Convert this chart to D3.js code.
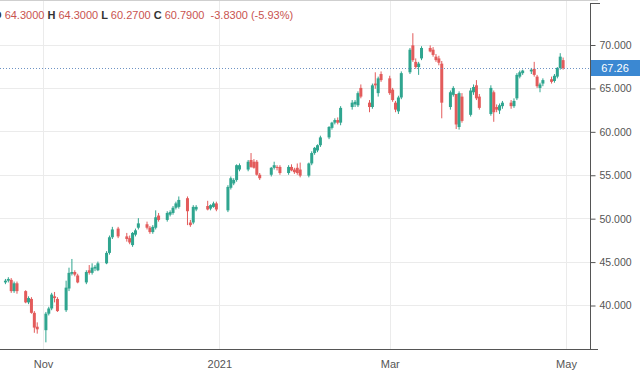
<!doctype html>
<html lang="en">
<head>
<meta charset="UTF-8">
<title>Candlestick chart</title>
<script src="https://cdn.jsdelivr.net/npm/d3@7"></script>
<style>
  html, body { margin: 0; padding: 0; background: #fff; overflow: hidden; }
  svg { display: block; font-family: "Liberation Sans", Arial, sans-serif; }
</style>
</head>
<body>
<div id="chart"></div>
<script>
// daily candles
const dates = [
  "2020-10-16","2020-10-19","2020-10-20","2020-10-21","2020-10-22","2020-10-23","2020-10-26","2020-10-27","2020-10-28","2020-10-29","2020-10-30",
  "2020-11-02","2020-11-03","2020-11-04","2020-11-05","2020-11-06","2020-11-09","2020-11-10","2020-11-11","2020-11-12","2020-11-13",
  "2020-11-16","2020-11-17","2020-11-18","2020-11-19","2020-11-20","2020-11-23","2020-11-24","2020-11-25","2020-11-27","2020-11-30",
  "2020-12-01","2020-12-02","2020-12-03","2020-12-04","2020-12-07","2020-12-08","2020-12-09","2020-12-10","2020-12-11",
  "2020-12-14","2020-12-15","2020-12-16","2020-12-17","2020-12-18","2020-12-21","2020-12-22","2020-12-23","2020-12-24",
  "2020-12-28","2020-12-29","2020-12-30","2020-12-31",
  "2021-01-04","2021-01-05","2021-01-06","2021-01-07","2021-01-08","2021-01-11","2021-01-12","2021-01-13","2021-01-14","2021-01-15",
  "2021-01-19","2021-01-20","2021-01-21","2021-01-22","2021-01-25","2021-01-26","2021-01-27","2021-01-28","2021-01-29",
  "2021-02-01","2021-02-02","2021-02-03","2021-02-04","2021-02-05","2021-02-08","2021-02-09","2021-02-10","2021-02-11","2021-02-12",
  "2021-02-16","2021-02-17","2021-02-18","2021-02-19","2021-02-22","2021-02-23","2021-02-24","2021-02-25","2021-02-26",
  "2021-03-01","2021-03-02","2021-03-03","2021-03-04","2021-03-05","2021-03-08","2021-03-09","2021-03-10","2021-03-11","2021-03-12",
  "2021-03-15","2021-03-16","2021-03-17","2021-03-18","2021-03-19","2021-03-22","2021-03-23","2021-03-24","2021-03-25","2021-03-26",
  "2021-03-29","2021-03-30","2021-03-31","2021-04-01",
  "2021-04-05","2021-04-06","2021-04-07","2021-04-08","2021-04-09","2021-04-12","2021-04-13","2021-04-14","2021-04-15","2021-04-16",
  "2021-04-19","2021-04-20","2021-04-21","2021-04-22","2021-04-23","2021-04-26","2021-04-27","2021-04-28","2021-04-29","2021-04-30"
];
const opens = [
  42.8,42.6,42.8,42.9,41.6,42.5,41.6,40.3,40.7,39.1,37.5,
  37.1,39.0,39.6,41.0,40.7,39.4,41.9,43.6,43.8,43.4,
  42.6,44.0,43.7,44.2,44.0,44.8,46.0,47.8,48.8,47.9,
  47.7,46.9,48.1,48.9,49.3,48.9,48.4,48.9,50.3,
  49.8,50.4,50.6,51.2,51.3,52.3,49.5,49.5,51.0,
  51.4,51.1,51.3,51.7,
  50.9,53.5,54.0,54.4,55.6,55.6,56.7,56.5,56.5,55.0,
  55.0,55.8,55.9,55.9,55.2,55.9,55.6,55.8,55.6,
  54.9,56.3,57.5,57.8,58.4,59.3,60.4,61.0,61.3,61.0,
  62.8,63.1,63.0,65.0,63.3,62.8,65.5,64.4,66.6,
  66.1,64.8,63.3,62.3,63.9,66.8,69.9,68.0,67.4,68.4,
  69.6,69.4,68.6,68.4,67.8,62.8,64.2,64.3,60.5,64.0,
  61.9,64.5,65.3,64.0,
  62.0,64.5,62.8,62.4,62.9,63.3,62.9,63.8,66.3,66.7,
  66.9,67.2,66.3,65.0,65.5,66.0,65.8,66.3,67.3,68.2
];
const highs = [
  43.1,43.0,43.2,43.1,42.7,42.7,41.7,41.0,40.9,39.3,38.0,
  39.2,39.8,41.4,41.5,40.9,42.8,44.3,45.3,44.0,43.6,
  44.0,44.6,44.8,44.6,45.0,46.2,48.0,49.0,49.0,48.3,
  48.0,48.4,48.8,50.0,49.6,49.1,49.2,50.9,50.6,
  50.8,50.9,51.4,51.9,52.5,52.5,49.8,51.5,51.5,
  52.0,51.6,51.9,51.9,
  53.8,54.8,54.6,56.2,56.3,56.7,57.5,56.8,56.7,55.2,
  55.9,56.5,56.1,56.1,56.1,56.2,55.8,56.3,56.4,
  56.4,57.7,58.2,58.5,59.5,60.6,61.1,61.5,61.6,62.9,
  63.6,63.6,64.6,65.4,63.6,65.5,66.8,66.3,66.9,
  66.4,65.0,63.5,64.1,66.9,69.6,71.3,68.4,68.0,69.8,
  69.9,69.7,68.9,68.7,68.1,64.7,65.2,64.3,64.6,64.4,
  65.0,65.4,65.9,64.3,
  65.3,64.7,63.1,63.2,63.5,63.6,63.8,66.7,67.0,67.1,
  67.3,68.0,66.5,65.6,66.1,66.3,66.6,67.4,69.0,68.5
];
const lows = [
  42.5,42.4,42.6,41.4,41.4,41.3,40.2,40.1,39.0,36.8,36.7,
  35.7,38.8,39.4,40.3,39.2,39.2,41.6,43.4,43.3,42.5,
  42.4,43.5,43.5,43.9,43.9,44.7,45.8,47.6,47.7,47.3,
  47.0,46.7,47.9,48.7,48.7,48.2,48.2,48.7,49.6,
  49.6,50.2,50.4,51.0,51.1,49.2,49.0,49.3,50.8,
  50.9,50.9,51.2,50.8,
  50.7,53.3,53.8,54.2,55.4,55.4,55.8,55.7,54.9,54.4,
  54.8,55.6,55.5,55.0,55.0,55.4,55.1,55.0,54.7,
  54.7,56.1,57.3,57.6,58.2,59.1,60.2,60.8,60.8,60.7,
  62.5,62.8,62.8,63.8,62.2,62.6,64.9,64.0,65.7,
  64.2,63.4,62.2,62.0,63.7,66.6,68.0,67.2,66.5,68.2,
  69.1,68.6,68.0,67.6,61.5,62.5,64.0,60.27,60.2,61.0,
  61.7,64.2,63.6,62.5,
  61.8,61.1,62.2,62.0,62.6,62.6,62.7,63.6,66.1,66.5,
  66.6,66.3,65.0,64.5,65.2,65.5,65.6,66.1,67.1,67.1
];
const closes = [
  42.6,42.8,43.0,41.6,42.5,41.6,40.3,40.8,39.1,37.4,37.2,
  39.0,39.6,41.2,40.8,39.3,42.0,43.7,43.8,43.5,42.6,
  43.8,43.7,44.3,44.4,44.8,46.0,47.8,48.7,47.9,47.6,
  47.2,48.3,48.6,49.4,48.9,48.4,49.0,50.1,49.8,
  50.6,50.7,51.2,51.7,52.1,50.8,49.2,51.3,51.3,
  51.0,51.5,51.7,51.0,
  53.6,54.6,54.4,56.1,56.1,56.5,55.9,55.8,55.0,54.6,
  55.8,56.1,55.8,55.2,55.9,55.5,55.3,55.2,54.9,
  56.3,57.5,58.1,58.4,59.3,60.5,61.0,61.3,61.0,62.7,
  63.3,63.4,64.4,64.0,62.8,65.3,65.3,66.1,65.9,
  64.4,63.6,62.5,63.9,66.7,69.4,68.2,67.4,67.8,69.6,
  69.2,68.8,68.2,67.9,63.3,64.5,65.0,60.79,64.4,61.2,
  64.7,65.1,63.8,62.7,
  65.0,62.2,62.5,63.0,63.3,62.9,63.5,66.5,66.8,67.0,
  67.1,66.5,65.2,65.4,65.9,65.7,66.4,67.3,68.6,67.26
];

const yTicks = [40, 45, 50, 55, 60, 65, 70];
const xTickDates = ["2020-11-01", "2021-01-01", "2021-03-01", "2021-05-01"];
const xTickLabels = ["Nov", "2021", "Mar", "May"];
const lastPrice = 67.26;
const headerItems = [["O", "64.3000"], ["H", "64.3000"], ["L", "60.2700"], ["C", "60.7900"]];
const headerChange = "-3.8300 (-5.93%)";

const width = 640;
const height = 374;
const plotRight = 590;
const plotBottom = 349;
const upColor = "#2fa58f";
const downColor = "#e35b5b";

const parse = d3.utcParse("%Y-%m-%d");
const data = dates.map((d, i) => ({
  date: parse(d), open: opens[i], high: highs[i], low: lows[i], close: closes[i]
}));

const x = d3.scaleUtc()
  .domain([parse("2020-11-01"), parse("2021-05-01")])
  .range([43, 566]);
const y = d3.scaleLinear().domain([40, 70]).range([305, 44.5]);

const svg = d3.select("#chart").append("svg")
  .attr("width", width)
  .attr("height", height);

svg.append("rect").attr("width", width).attr("height", height).attr("fill", "#fff");

// grid
const grid = svg.append("g");
grid.selectAll(".hgrid").data(yTicks).enter().append("line")
  .attr("x1", 0).attr("x2", plotRight)
  .attr("y1", d => Math.round(y(d)) + 0.5).attr("y2", d => Math.round(y(d)) + 0.5)
  .attr("stroke", "#ebebeb");
grid.selectAll(".vgrid").data(xTickDates).enter().append("line")
  .attr("x1", d => Math.round(x(parse(d))) + 0.5).attr("x2", d => Math.round(x(parse(d))) + 0.5)
  .attr("y1", 0).attr("y2", plotBottom)
  .attr("stroke", "#ebebeb");

// top border
svg.append("line").attr("x1", 0).attr("x2", 598).attr("y1", 0.5).attr("y2", 0.5).attr("stroke", "#cfcfcf");

// candles
svg.append("clipPath").attr("id", "plot-clip")
  .append("rect").attr("x", 0).attr("y", 0).attr("width", plotRight).attr("height", plotBottom);

const candles = svg.append("g").attr("clip-path", "url(#plot-clip)");
const bodyW = 3;

candles.selectAll(".wick").data(data).enter().append("line")
  .attr("x1", d => x(d.date)).attr("x2", d => x(d.date))
  .attr("y1", d => y(d.high)).attr("y2", d => y(d.low))
  .attr("stroke", d => d.close >= d.open ? upColor : downColor)
  .attr("stroke-width", 1);

candles.selectAll(".body").data(data).enter().append("rect")
  .attr("x", d => x(d.date) - bodyW / 2)
  .attr("width", bodyW)
  .attr("y", d => y(Math.max(d.open, d.close)))
  .attr("height", d => Math.max(1, Math.abs(y(d.open) - y(d.close))))
  .attr("fill", d => d.close >= d.open ? upColor : downColor);

// last price line
candles.append("line")
  .attr("x1", 0).attr("x2", plotRight)
  .attr("y1", Math.round(y(lastPrice)) + 0.5).attr("y2", Math.round(y(lastPrice)) + 0.5)
  .attr("stroke", "#6d93c4")
  .attr("stroke-dasharray", "1,2");

// y axis on the right
const yAxis = d3.axisRight(y)
  .tickValues(yTicks)
  .tickSize(5)
  .tickPadding(4)
  .tickFormat(d3.format(".3f"));

const yAxisG = svg.append("g")
  .attr("transform", `translate(${plotRight + 0.5},0.5)`)
  .call(yAxis);
yAxisG.select(".domain").remove();
yAxisG.selectAll("line").attr("stroke", "#555");
yAxisG.selectAll("text")
  .attr("fill", "#555")
  .style("font-size", "10.5px")
  .style("font-family", "'Liberation Sans', Arial, sans-serif");

svg.append("line")
  .attr("x1", plotRight + 0.5).attr("x2", plotRight + 0.5)
  .attr("y1", 3).attr("y2", plotBottom)
  .attr("stroke", "#555");
svg.append("line")
  .attr("x1", plotRight).attr("x2", 600)
  .attr("y1", 3.5).attr("y2", 3.5)
  .attr("stroke", "#555");

// x axis
const xAxis = d3.axisBottom(x)
  .tickValues(xTickDates.map(parse))
  .tickFormat((d, i) => xTickLabels[i])
  .tickSize(0)
  .tickPadding(11);

const xAxisG = svg.append("g")
  .attr("transform", `translate(0,${plotBottom})`)
  .call(xAxis);
xAxisG.select(".domain").remove();
xAxisG.selectAll("text")
  .attr("fill", "#555")
  .style("font-size", "11px")
  .style("font-family", "'Liberation Sans', Arial, sans-serif");

svg.append("line")
  .attr("x1", 0).attr("x2", 598)
  .attr("y1", plotBottom + 0.5).attr("y2", plotBottom + 0.5)
  .attr("stroke", "#555");

// last price tag
const tagY = y(lastPrice);
svg.append("rect")
  .attr("x", plotRight + 1).attr("y", Math.round(tagY) - 8)
  .attr("width", width - plotRight - 1).attr("height", 16)
  .attr("fill", "#3b88d2");
svg.append("text")
  .attr("x", 615).attr("y", Math.round(tagY) + 4)
  .attr("text-anchor", "middle")
  .attr("fill", "#fff")
  .style("font-size", "11px")
  .text(lastPrice.toFixed(2));

// OHLC header
const header = svg.append("text")
  .attr("x", -7).attr("y", 19)
  .attr("xml:space", "preserve")
  .style("font-size", "11px");
headerItems.forEach(([k, v], i) => {
  header.append("tspan").attr("fill", "#333").attr("font-weight", "bold").text((i ? " " : "") + k + " ");
  header.append("tspan").attr("fill", "#c9534f").text(v);
});
header.append("tspan").attr("fill", "#c9534f").text("  " + headerChange);
</script>
</body>
</html>
